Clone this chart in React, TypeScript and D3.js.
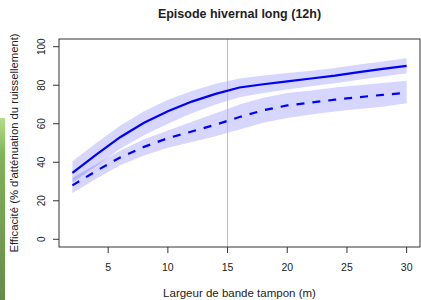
import * as d3 from "d3";

// largeur de bande tampon (m)
const widths = [2, 4, 6, 8, 10, 12, 14, 16, 18, 20, 22, 24, 26, 28, 30];

// série pleine + intervalle
const solidMid = [34.5, 44, 53, 60.5, 66.5, 71.5, 75.5, 78.8, 80.5, 82, 83.5, 85, 86.8, 88.5, 90];
const solidLo = [29.5, 38, 47, 54, 60, 65.5, 70, 73.8, 76, 77.8, 79.5, 81, 82.8, 84.5, 86.2];
const solidHi = [40.5, 50, 59, 66.5, 72.5, 77, 80.8, 83.5, 85, 86.3, 87.5, 89, 90.7, 92.3, 94];

// série pointillée + intervalle
const dashMid = [28, 35.5, 42.5, 48, 52.5, 56, 59.5, 63.5, 67, 69.5, 71, 72.5, 73.8, 75, 76];
const dashLo = [24, 31.5, 38.5, 43.5, 47.5, 50.5, 53.5, 57, 60.5, 63, 64.8, 66.3, 67.6, 68.8, 70.6];
const dashHi = [32, 39, 46, 52, 56.5, 61, 65.5, 70, 73.5, 76, 77.3, 78.8, 80, 81.2, 82.3];

const xTicks = [5, 10, 15, 20, 25, 30];
const yTicks = [0, 20, 40, 60, 80, 100];
const refWidth = 15;

const W = 421;
const H = 300;
const left = 59;
const right = 420;
const top = 39;
const bottom = 247;

export default function App() {
  const x = d3.scaleLinear().domain([0.88, 31.12]).range([left, right]);
  const y = d3.scaleLinear().domain([-4, 104]).range([bottom, top]);

  const line = (vals: number[]) =>
    d3
      .line<number>()
      .x((_, i) => x(widths[i]))
      .y((d) => y(d))(vals) ?? "";

  const band = (lo: number[], hi: number[]) =>
    d3
      .area<number>()
      .x((_, i) => x(widths[i]))
      .y0((_, i) => y(lo[i]))
      .y1((d) => y(d))(hi) ?? "";

  const font = "'Liberation Sans', Arial, sans-serif";
  const ink = "#222";

  return (
    <div style={{ position: "fixed", left: 0, top: 0, width: W, height: H, background: "#fff" }}>
      <svg width={W} height={H} style={{ display: "block" }} fontFamily={font}>
        <defs>
          <linearGradient id="leaf" x1="0" y1="0" x2="0" y2="1">
            <stop offset="0%" stopColor="#b4dc8a" />
            <stop offset="20%" stopColor="#82b25c" />
            <stop offset="100%" stopColor="#678a4b" />
          </linearGradient>
        </defs>
        <rect x={0} y={118} width={5} height={H - 118} fill="url(#leaf)" />

        <path d={band(solidLo, solidHi)} fill="rgba(0,0,255,0.16)" />
        <path d={band(dashLo, dashHi)} fill="rgba(0,0,255,0.16)" />

        <line x1={x(refWidth)} x2={x(refWidth)} y1={top} y2={bottom} stroke="#bdbdbd" strokeWidth={1} />

        <path d={line(solidMid)} fill="none" stroke="#0000ff" strokeWidth={2.2} />
        <path d={line(dashMid)} fill="none" stroke="#0000ff" strokeWidth={2.2} strokeDasharray="8,8" />

        <rect x={left} y={top} width={right - left} height={bottom - top} fill="none" stroke="#333" strokeWidth={1} />

        {yTicks.map((t) => (
          <g key={"y" + t} transform={`translate(${left},${y(t)})`}>
            <line x1={-6} x2={0} stroke="#333" />
            <text transform="translate(-18,0) rotate(-90)" textAnchor="middle" dy="0.35em" fontSize={10} fill={ink}>
              {t}
            </text>
          </g>
        ))}

        {xTicks.map((t) => (
          <g key={"x" + t} transform={`translate(${x(t)},${bottom})`}>
            <line y1={0} y2={6} stroke="#333" />
            <text y={20} textAnchor="middle" dy="0.35em" fontSize={10.5} fill={ink}>
              {t}
            </text>
          </g>
        ))}

        <text x={(left + right) / 2} y={13.5} dy="0.35em" textAnchor="middle" fontSize={12.5} fontWeight="bold" fill={ink}>
          Episode hivernal long (12h)
        </text>
        <text x={(left + right) / 2} y={293} dy="0.35em" textAnchor="middle" fontSize={11.5} fill={ink}>
          Largeur de bande tampon (m)
        </text>
        <text
          transform={`translate(14,${(top + bottom) / 2}) rotate(-90)`}
          dy="0.35em"
          textAnchor="middle"
          fontSize={11.3}
          fill={ink}
        >
          Efficacité (% d'atténuation du ruissellement)
        </text>
      </svg>
    </div>
  );
}
